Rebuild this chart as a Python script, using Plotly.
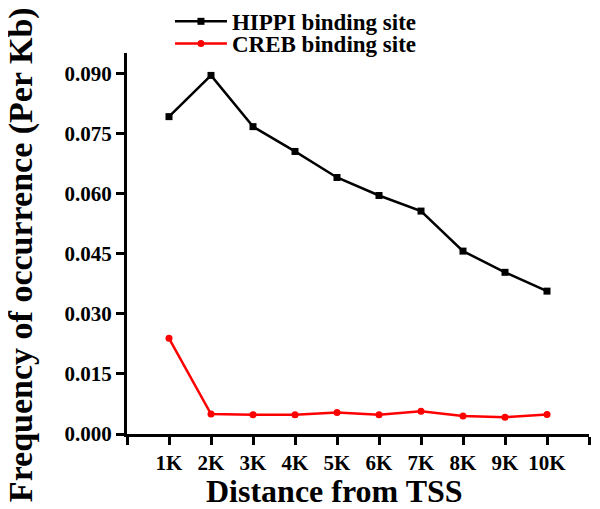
import plotly.graph_objects as go

distance_labels = ["1K", "2K", "3K", "4K", "5K", "6K", "7K", "8K", "9K", "10K"]
positions = [1, 2, 3, 4, 5, 6, 7, 8, 9, 10]
hippi = [0.0793, 0.0896, 0.0768, 0.0706, 0.0641, 0.0596, 0.0557, 0.0457, 0.0404, 0.0357]
creb = [0.0239, 0.0050, 0.0048, 0.0048, 0.0054, 0.0048, 0.0057, 0.0045, 0.0042, 0.0049]
y_ticks = [0.0, 0.015, 0.030, 0.045, 0.060, 0.075, 0.090]

serif = "Liberation Serif, Times New Roman, serif"
legend_font = dict(family=serif, size=23, color="black", weight="bold")

fig = go.Figure()
fig.add_trace(go.Scatter(x=positions, y=hippi, mode="lines+markers", name="HIPPI binding site",
                         line=dict(color="black", width=2.5),
                         marker=dict(symbol="square", size=7, color="black"),
                         legend="legend", showlegend=True))
fig.add_trace(go.Scatter(x=positions, y=creb, mode="lines+markers", name="CREB binding site",
                         line=dict(color="#ff0000", width=2.5),
                         marker=dict(symbol="circle", size=7, color="#ff0000"),
                         legend="legend2", showlegend=True))

fig.update_xaxes(range=[0, 11], tickvals=[0] + positions + [11], ticktext=[""] + distance_labels + [""],
                 showline=True, linecolor="black", linewidth=3, ticks="outside", ticklen=8,
                 tickwidth=3, tickcolor="black", showgrid=False, zeroline=False,
                 tickfont=dict(family=serif, size=21, color="black", weight="bold"))
fig.update_yaxes(range=[0, 0.0952], tickvals=y_ticks, tickformat=".3f",
                 showline=True, linecolor="black", linewidth=3, ticks="outside", ticklen=8,
                 tickwidth=3, tickcolor="black", showgrid=False, zeroline=False,
                 tickfont=dict(family=serif, size=21, color="black", weight="bold"))

fig.add_annotation(text="Frequency of occurrence (Per Kb)", textangle=-90, xref="paper", yref="paper",
                   x=-0.229, y=0.47, xanchor="center", yanchor="middle", showarrow=False,
                   font=dict(family=serif, size=34, color="black", weight="bold"))
fig.add_annotation(text="Distance from TSS", xref="paper", yref="paper", x=0.45, y=-0.15,
                   xanchor="center", yanchor="middle", showarrow=False,
                   font=dict(family=serif, size=32, color="black", weight="bold"))

# page has an 8px body margin, so the figure is 8px smaller and shifted
fig.update_layout(width=592, height=501, margin=dict(l=119, r=11, t=45, b=75, autoexpand=False),
                  plot_bgcolor="white", paper_bgcolor="white", showlegend=True,
                  legend=dict(x=0.093, y=1.083, xanchor="left", yanchor="middle", itemwidth=52,
                              bgcolor="rgba(0,0,0,0)", font=legend_font),
                  legend2=dict(x=0.093, y=1.025, xanchor="left", yanchor="middle", itemwidth=52,
                               bgcolor="rgba(0,0,0,0)", font=legend_font))

fig.write_html("out.html")
